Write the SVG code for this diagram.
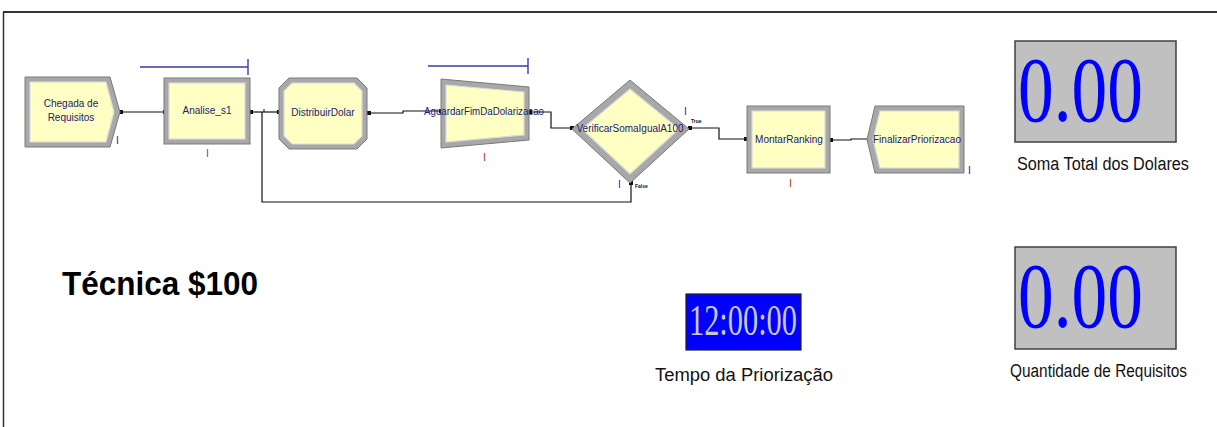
<svg xmlns="http://www.w3.org/2000/svg" width="1217" height="427" viewBox="0 0 1217 427">
<style>
.outer{fill:#a8a8a8;stroke:#7a7a7a;stroke-width:1}
.inner{fill:#ffffc4;stroke:#dadada;stroke-width:1.2}
.lbl{font-family:"Liberation Sans",Arial,sans-serif;font-size:10px;fill:#20206e;text-anchor:middle}
.conn{fill:none;stroke:#111;stroke-width:1.2}
.bi{stroke:#5555c8;stroke-width:1.3}
.ri{stroke:#c85a5a;stroke-width:1.3}
.bar{stroke:#3a3aa8;stroke-width:1.4;fill:none}
.disp{fill:#c0c0c0;stroke:#404040;stroke-width:1.5}
.num{font-family:"Liberation Serif","Times New Roman",serif;font-size:93px;fill:#0000ff}
.cap{font-family:"Liberation Sans",Arial,sans-serif;font-size:18px;fill:#111}
.tiny{font-family:"Liberation Sans",Arial,sans-serif;font-size:5px;fill:#111;font-weight:bold}
</style>
<defs>
<marker id="dot" viewBox="0 0 4 4" refX="2" refY="2" markerWidth="4" markerHeight="4" markerUnits="userSpaceOnUse"><rect x="0" y="0" width="4" height="4" fill="#111"/></marker>
</defs>
<rect width="1217" height="427" fill="#fff"/>
<g id="frame">
<line x1="3" y1="12" x2="1217" y2="12" stroke="#333" stroke-width="2"/>
<line x1="3.5" y1="12" x2="3.5" y2="427" stroke="#333" stroke-width="1.5"/>
</g>
<g id="connectors">
<polyline class="conn" points="121,112 165,112" marker-start="url(#dot)" marker-end="url(#dot)"/>
<polyline class="conn" points="251,112 279,112" marker-start="url(#dot)" marker-end="url(#dot)"/>
<polyline class="conn" points="369,113 403,113 403,111 441,111" marker-start="url(#dot)" marker-end="url(#dot)"/>
<polyline class="conn" points="530,112 551,112 551,128 572,128" marker-start="url(#dot)" marker-end="url(#dot)"/>
<polyline class="conn" points="690,128 719,128 719,139 746,139" marker-start="url(#dot)" marker-end="url(#dot)"/>
<polyline class="conn" points="831,140 851,140 851,139 870,139" marker-start="url(#dot)" marker-end="url(#dot)"/>
<polyline class="conn" points="631,183 631,202 262,202 262,112" marker-start="url(#dot)"/>
<line x1="264" y1="109" x2="264" y2="112" stroke="#111" stroke-width="1"/>
<text class="tiny" x="691" y="123">True</text>
<text class="tiny" x="635" y="188">False</text>
</g>
<g id="chegada">
<polygon class="outer" points="25,77 110,77 120,112 110,147 25,147"/>
<polygon class="inner" points="30,82 106,82 114,112 106,142 30,142"/>
<text class="lbl" x="71" y="107">Chegada de</text>
<text class="lbl" x="71" y="121">Requisitos</text>
<line class="bi" x1="117.5" y1="136" x2="117.5" y2="144"/>
</g>
<g id="analise">
<line class="bar" x1="140" y1="67" x2="248" y2="67"/>
<line class="bar" x1="248" y1="59" x2="248" y2="75"/>
<rect class="outer" x="164" y="78" width="86" height="66"/>
<rect class="inner" x="169" y="83" width="76" height="56"/>
<text class="lbl" x="207" y="114">Analise_s1</text>
<line class="ri" x1="207.5" y1="149" x2="207.5" y2="157"/>
</g>
<g id="distribuir">
<polygon class="outer" points="289,78 357,78 367,88 367,139 357,149 289,149 279,139 279,88"/>
<polygon class="inner" points="292,83 354,83 362,91 362,136 354,144 292,144 284,136 284,91"/>
<text class="lbl" x="323" y="116">DistribuirDolar</text>
</g>
<g id="aguardar">
<line class="bar" x1="428" y1="66" x2="528" y2="66"/>
<line class="bar" x1="528" y1="58" x2="528" y2="74"/>
<polygon class="outer" points="441,79 529,87 529,140 441,148"/>
<polygon class="inner" points="446,85 524,92 524,135 446,142"/>
<text class="lbl" x="484" y="115" textLength="120" lengthAdjust="spacingAndGlyphs">AguardarFimDaDolarizacao</text>
<line class="ri" x1="484.5" y1="153" x2="484.5" y2="161"/>
</g>
<g id="verificar">
<polygon class="outer" points="572,129 630,80 689,129 630,183"/>
<polygon class="inner" points="582,129 630,89 679,129 630,174"/>
<text class="lbl" x="630" y="132" textLength="107" lengthAdjust="spacingAndGlyphs">VerificarSomaIgualA100</text>
<line class="bi" x1="685.5" y1="107" x2="685.5" y2="115"/>
<line class="bi" x1="619.5" y1="180" x2="619.5" y2="188"/>
</g>
<g id="montar">
<rect class="outer" x="747" y="106" width="83" height="67"/>
<rect class="inner" x="752" y="111" width="73" height="57"/>
<text class="lbl" x="789" y="143">MontarRanking</text>
<line class="ri" x1="790.5" y1="179" x2="790.5" y2="187"/>
</g>
<g id="finalizar">
<polygon class="outer" points="875,106 964,106 964,173 875,173 867,139.5"/>
<polygon class="inner" points="880,111 959,111 959,168 880,168 873,139.5"/>
<text class="lbl" x="917" y="143" textLength="88" lengthAdjust="spacingAndGlyphs">FinalizarPriorizacao</text>
<line class="bi" x1="969.5" y1="166" x2="969.5" y2="174"/>
</g>
<g id="soma">
<rect class="disp" x="1015" y="41" width="161" height="101"/>
<text class="num" x="1018" y="121" textLength="125" lengthAdjust="spacingAndGlyphs">0.00</text>
<text class="cap" x="1017" y="170" textLength="172" lengthAdjust="spacingAndGlyphs">Soma Total dos Dolares</text>
</g>
<g id="quantidade">
<rect class="disp" x="1015" y="247" width="161" height="102"/>
<text class="num" x="1018" y="327" textLength="125" lengthAdjust="spacingAndGlyphs">0.00</text>
<text class="cap" x="1010" y="377" textLength="177" lengthAdjust="spacingAndGlyphs">Quantidade de Requisitos</text>
</g>
<g id="tempo">
<rect x="686" y="294" width="115" height="56" fill="#0000ff" stroke="#202020" stroke-width="1.2"/>
<text x="689" y="335" font-family="'Liberation Serif','Times New Roman',serif" font-size="45" fill="#c8c8c8" textLength="108" lengthAdjust="spacingAndGlyphs">12:00:00</text>
<text class="cap" x="655" y="381" font-size="19" textLength="178" lengthAdjust="spacingAndGlyphs">Tempo da Priorização</text>
</g>
<g id="titulo">
<text x="62" y="295" font-family="'Liberation Sans',Arial,sans-serif" font-size="34" font-weight="bold" fill="#000" textLength="196" lengthAdjust="spacingAndGlyphs">Técnica $100</text>
</g>
</svg>
